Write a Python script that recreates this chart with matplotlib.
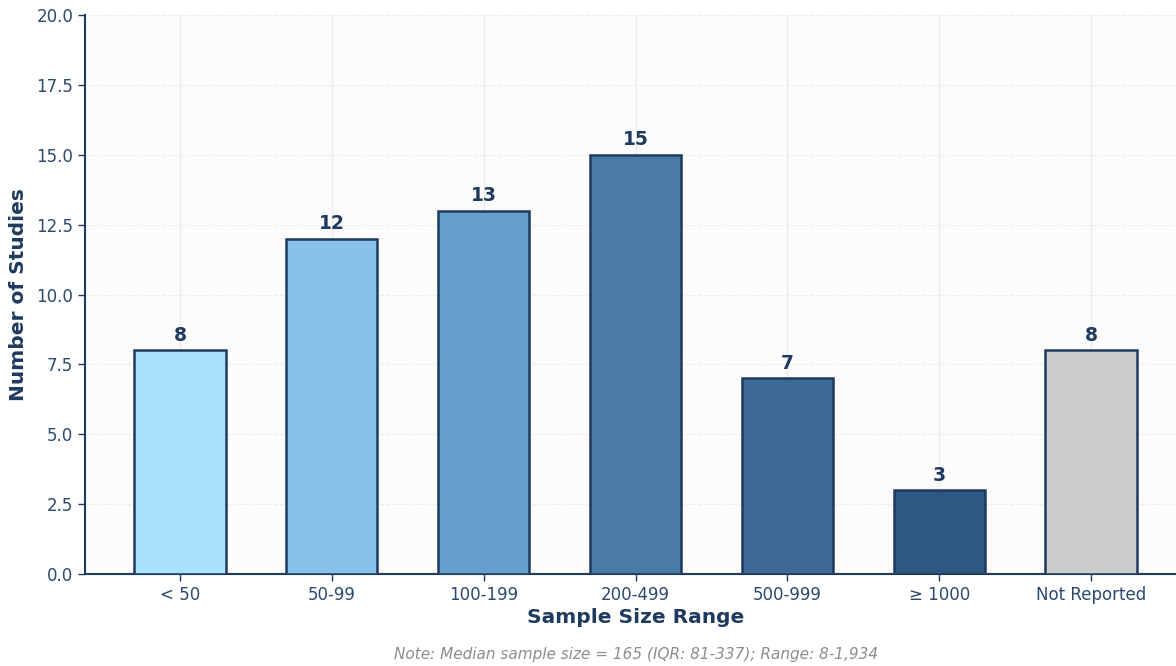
import matplotlib
matplotlib.use("Agg")
import matplotlib.pyplot as plt

categories = ["< 50", "50-99", "100-199", "200-499", "500-999", "≥ 1000", "Not Reported"]
counts = [8, 12, 13, 15, 7, 3, 8]
bar_colors = ["#a8e2fd", "#87c1ec", "#679fcc", "#4a7ba7", "#3e6b96", "#2e5881", "#cccccc"]

navy = "#1f3a5f"
tick_color = "#2b4a6e"

fig = plt.figure(figsize=(11.76, 6.66), dpi=100)
fig.patch.set_facecolor("white")
ax = fig.add_axes([85 / 1176, 1 - 574 / 666, 1 - 85 / 1176, (574 - 15) / 666])
ax.set_facecolor("#fcfcfc")

x = range(len(categories))
ax.bar(x, counts, width=0.6, color=bar_colors, edgecolor=navy, linewidth=1.8, zorder=3)

for xi, c in zip(x, counts):
    ax.text(xi, c + 0.2, str(c), ha="center", va="bottom", fontsize=13.5,
            fontweight="bold", color=navy, zorder=4)

ax.set_xlim(-0.626, 6.56)
ax.set_ylim(0, 20)
ax.set_yticks([0, 2.5, 5, 7.5, 10, 12.5, 15, 17.5, 20])
ax.set_yticklabels(["0.0", "2.5", "5.0", "7.5", "10.0", "12.5", "15.0", "17.5", "20.0"])
ax.set_xticks(list(x))
ax.set_xticklabels(categories)

ax.tick_params(axis="both", colors=navy, labelcolor=tick_color, labelsize=12, length=5, width=1)

ax.grid(axis="y", linestyle="--", color="#ececec", linewidth=0.8, zorder=0)
ax.grid(axis="x", linestyle="-", color="#ebebeb", linewidth=1, zorder=0)

for side in ["top", "right"]:
    ax.spines[side].set_visible(False)
for side in ["left", "bottom"]:
    ax.spines[side].set_color(navy)
    ax.spines[side].set_linewidth(1.5)

ax.set_xlabel("Sample Size Range", fontsize=14.5, fontweight="bold", color=navy)
ax.xaxis.set_label_coords((636 - 85) / 1091, -0.06)
ax.set_ylabel("Number of Studies", fontsize=14.5, fontweight="bold", color=navy, labelpad=6)

fig.text(636 / 1176, 1 - 654 / 666, "Note: Median sample size = 165 (IQR: 81-337); Range: 8-1,934",
         ha="center", va="center", fontsize=11, style="italic", color="#8c8c8c")

fig.savefig("out.png", dpi=100, facecolor="white")
